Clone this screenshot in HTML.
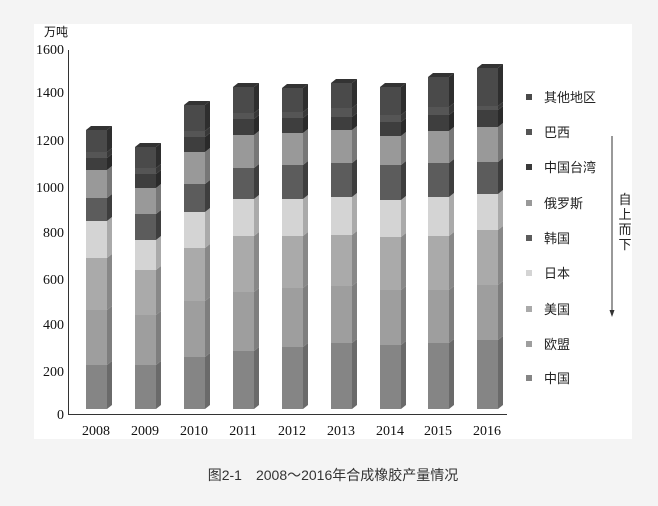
<!DOCTYPE html>
<html><head><meta charset="utf-8"><style>
body{margin:0;background:#f4f4f4;width:658px;height:506px;overflow:hidden}
svg{display:block}
</style></head><body>
<svg width="658" height="506" xmlns="http://www.w3.org/2000/svg">
<rect x="0" y="0" width="658" height="506" fill="#f4f4f4"/>
<rect x="34" y="24" width="598" height="415" fill="#fff"/>
<g font-family="Liberation Serif, serif" font-size="14" fill="#111">
<text x="44" y="36" font-family="Liberation Sans, Noto Sans CJK SC, sans-serif" font-size="12">万吨</text>
<g text-anchor="end">
<text x="64" y="54">1600</text><text x="64" y="97">1400</text><text x="64" y="145">1200</text>
<text x="64" y="192">1000</text><text x="64" y="237">800</text><text x="64" y="284">600</text>
<text x="64" y="329">400</text><text x="64" y="376">200</text><text x="64" y="419">0</text>
</g>
<g text-anchor="middle">
<text x="96" y="435">2008</text><text x="145" y="435">2009</text><text x="194" y="435">2010</text>
<text x="243" y="435">2011</text><text x="292" y="435">2012</text><text x="341" y="435">2013</text>
<text x="390" y="435">2014</text><text x="438" y="435">2015</text><text x="487" y="435">2016</text>
</g>
</g>
<line x1="68.5" y1="50" x2="68.5" y2="415" stroke="#333" stroke-width="1"/>
<line x1="68" y1="414.5" x2="507" y2="414.5" stroke="#333" stroke-width="1"/>
<g id="bars"></g>
<g font-family="Liberation Sans, Noto Sans CJK SC, sans-serif" font-size="13" fill="#222">
<rect x="526" y="94" width="6" height="6" fill="#4a4a4a"/><text x="544" y="102">其他地区</text>
<rect x="526" y="129" width="6" height="6" fill="#555"/><text x="544" y="137">巴西</text>
<rect x="526" y="164" width="6" height="6" fill="#3a3a3a"/><text x="544" y="172">中国台湾</text>
<rect x="526" y="200" width="6" height="6" fill="#999"/><text x="544" y="208">俄罗斯</text>
<rect x="526" y="235" width="6" height="6" fill="#5c5c5c"/><text x="544" y="243">韩国</text>
<rect x="526" y="270" width="6" height="6" fill="#d4d4d4"/><text x="544" y="278">日本</text>
<rect x="526" y="306" width="6" height="6" fill="#aaa"/><text x="544" y="314">美国</text>
<rect x="526" y="341" width="6" height="6" fill="#9e9e9e"/><text x="544" y="349">欧盟</text>
<rect x="526" y="375" width="6" height="6" fill="#858585"/><text x="544" y="383">中国</text>
<line x1="612" y1="136" x2="612" y2="312" stroke="#333"/>
<polygon points="609.5,310 614.5,310 612,317" fill="#333"/>
<text x="625" y="204" text-anchor="middle">自</text><text x="625" y="219" text-anchor="middle">上</text>
<text x="625" y="234" text-anchor="middle">而</text><text x="625" y="249" text-anchor="middle">下</text>
</g>
<text x="333" y="480" text-anchor="middle" font-family="Liberation Sans, Noto Sans CJK SC, sans-serif" font-size="14" fill="#333">图2-1　2008～2016年合成橡胶产量情况</text>
</svg>
<script>
var cols=['#858585','#9e9e9e','#aaaaaa','#d4d4d4','#5c5c5c','#999999','#3e3e3e','#555555','#4a4a4a'];
var side=['#6a6a6a','#7e7e7e','#888','#aaa','#3e3e3e','#777','#2a2a2a','#383838','#2e2e2e'];
var xs=[86,135,184,233,282,331,380,428,477];
var d=[[365,310,258,221,198,170,158,152,130],
[365,315,270,240,214,188,174,168,147],
[357,301,248,212,184,152,137,131,105],
[351,292,236,199,168,135,119,113,87],
[347,288,236,199,165,133,118,112,88],
[343,286,235,197,163,130,117,108,83],
[345,290,237,200,165,136,122,115,87],
[343,290,236,197,163,131,115,107,77],
[340,285,230,194,162,127,110,106,68]];
var s='',W=21,D=5;
for(var i=0;i<9;i++){var x=xs[i],prev=409;
for(var k=0;k<9;k++){var t=d[i][k];
s+='<rect x="'+x+'" y="'+t+'" width="'+W+'" height="'+(prev-t)+'" fill="'+cols[k]+'"/>';
s+='<polygon points="'+(x+W)+','+t+' '+(x+W+D)+','+(t-4)+' '+(x+W+D)+','+(prev-4)+' '+(x+W)+','+prev+'" fill="'+side[k]+'"/>';
prev=t;}
var t=d[i][8];
s+='<polygon points="'+x+','+t+' '+(x+D)+','+(t-4)+' '+(x+W+D)+','+(t-4)+' '+(x+W)+','+t+'" fill="#333"/>';}
document.getElementById('bars').innerHTML=s;
</script>
</body></html>
